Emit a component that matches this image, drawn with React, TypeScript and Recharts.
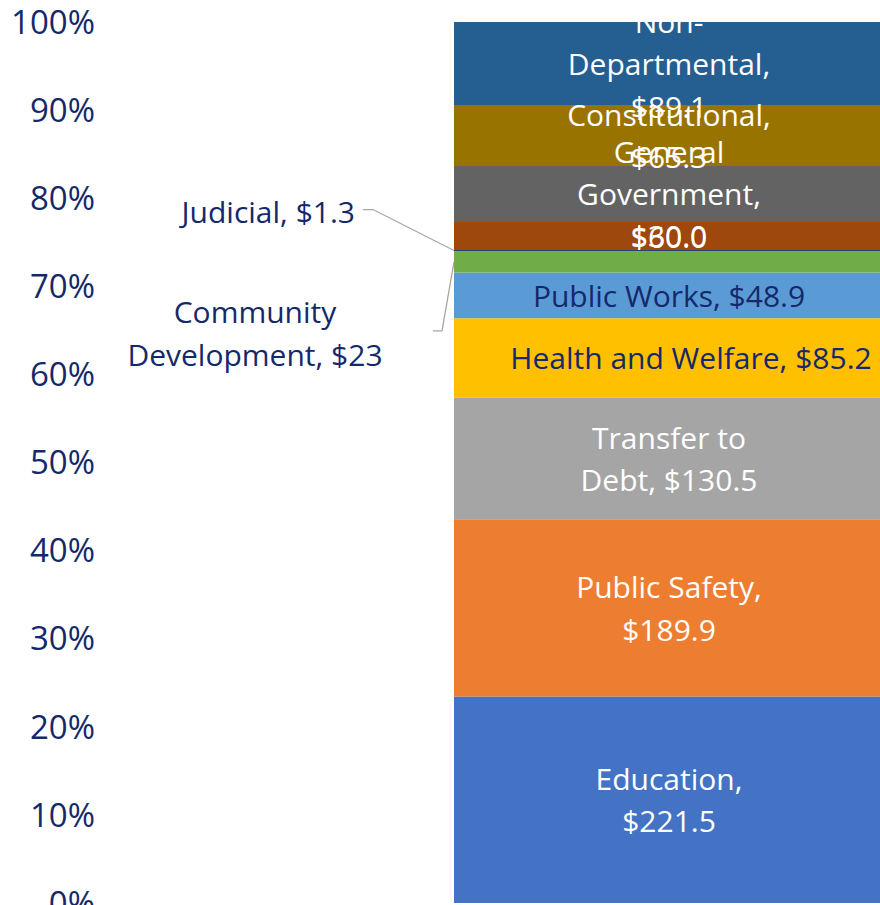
import React from 'react';
import { BarChart, Bar, XAxis, YAxis, LabelList } from 'recharts';

// bottom to top, $ millions
const segments = [
  'Education',
  'Public Safety',
  'Transfer to Debt',
  'Health and Welfare',
  'Public Works',
  'Community Development',
  'Judicial',
  'Other',
  'General Government',
  'Constitutional',
  'Non-Departmental',
];
const values = [221.5, 189.9, 130.5, 85.2, 48.9, 23, 1.3, 30.0, 60.0, 65.3, 89.1];
const labelLines = [
  ['Education,', '$221.5'],
  ['Public Safety,', '$189.9'],
  ['Transfer to', 'Debt, $130.5'],
  ['Health and Welfare, $85.2'],
  ['Public Works, $48.9'],
  ['Community', 'Development, $23'],
  ['Judicial, $1.3'],
  ['$30.0'],
  ['General', 'Government,', '$60.0'],
  ['Constitutional,', '$65.3'],
  ['Non-', 'Departmental,', '$89.1'],
];
const colors = [
  '#4472C4', '#ED7D31', '#A5A5A5', '#FFC000', '#5B9BD5', '#70AD47',
  '#264478', '#9E480E', '#636363', '#997300', '#255E91',
];
const yTicks = [0, 0.1, 0.2, 0.3, 0.4, 0.5, 0.6, 0.7, 0.8, 0.9, 1];

const NAVY = '#14296B';
const FONT = '"Open Sans", "Noto Sans", sans-serif';
const FS = 30;
const LH = 42.5;

const row: Record<string, number | string> = { name: 'Budget' };
segments.forEach((s, i) => { row[s] = values[i]; });
const data = [row];

const darkText = new Set(['Health and Welfare', 'Public Works']);

function box(props: any) {
  const vb = props.viewBox || props;
  return { x: +vb.x, y: +vb.y, w: +vb.width, h: +vb.height };
}

const makeLabel = (i: number) => (props: any) => {
  const { x, y, w, h } = box(props);
  const lines = labelLines[i];
  const name = segments[i];
  if (name === 'Judicial') {
    const ty = y + h / 2;
    return (
      <g>
        <polyline points={`${x - 91},${ty - 41} ${x - 81},${ty - 41} ${x},${ty}`} fill="none" stroke="#A6A6A6" strokeWidth={1.3} />
        <text x={x - 99} y={ty - 39} textAnchor="end" dominantBaseline="central" fill={NAVY} fontSize={FS} fontFamily={FONT}>
          {lines[0]}
        </text>
      </g>
    );
  }
  if (name === 'Community Development') {
    const ty = y + h / 2;
    return (
      <g>
        <polyline points={`${x - 21},${ty + 69} ${x - 12},${ty + 69} ${x},${ty}`} fill="none" stroke="#A6A6A6" strokeWidth={1.3} />
        {lines.map((l, k) => (
          <text key={k} x={x - 199} y={ty + 50 + k * LH} textAnchor="middle" dominantBaseline="central" fill={NAVY} fontSize={FS} fontFamily={FONT}>
            {l}
          </text>
        ))}
      </g>
    );
  }
  const cx = x + w / 2 + (name === 'Health and Welfare' ? 22 : 0);
  const cy = y + h / 2;
  const top = cy - ((lines.length - 1) * LH) / 2;
  return (
    <g>
      {lines.map((l, k) => (
        <text key={k} x={cx} y={top + k * LH} textAnchor="middle" dominantBaseline="central"
          fill={darkText.has(name) ? NAVY : '#FFFFFF'} fontSize={FS} fontFamily={FONT}>
          {l}
        </text>
      ))}
    </g>
  );
};

export default function App() {
  return (
    <div style={{ position: 'fixed', left: 0, top: 0, width: 880, height: 905, overflow: 'hidden', background: '#fff' }}>
      <BarChart
        width={884}
        height={930}
        data={data}
        stackOffset="expand"
        barCategoryGap={0}
        margin={{ top: 22, right: 0, bottom: 27, left: 0 }}
      >
        <XAxis dataKey="name" hide padding={{ left: 354, right: 0 }} height={0} />
        <YAxis
          width={100}
          domain={[0, 1]}
          ticks={yTicks}
          tickFormatter={(v: number) => `${Math.round(v * 100)}%`}
          axisLine={false}
          tickLine={false}
          tickSize={0}
          tickMargin={5}
          tick={{ fill: NAVY, fontSize: 33, fontFamily: FONT }}
          interval={0}
        />
        {segments.map((s, i) => (
          <Bar key={s} dataKey={s} stackId="a" fill={colors[i]} isAnimationActive={false}>
            <LabelList dataKey={s} content={makeLabel(i)} />
          </Bar>
        ))}
      </BarChart>
    </div>
  );
}
